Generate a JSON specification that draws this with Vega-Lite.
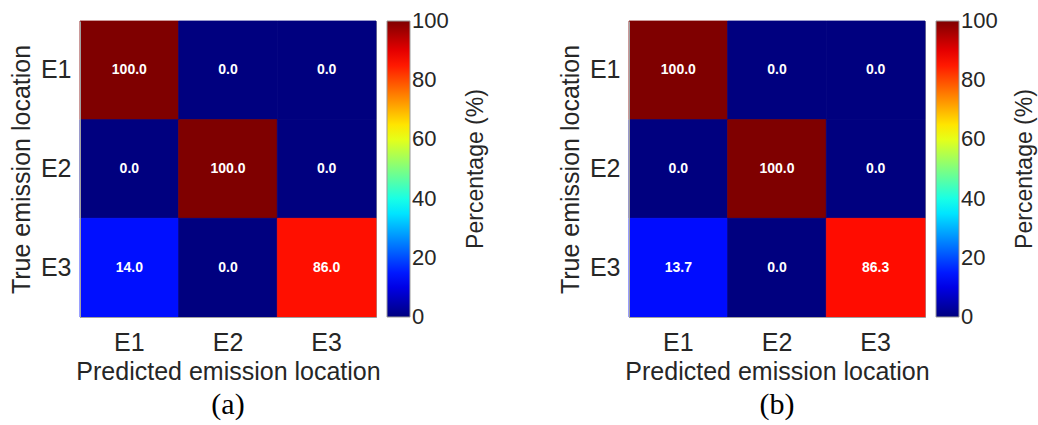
{
  "$schema": "https://vega.github.io/schema/vega-lite/v6.json",
  "padding": {"left": 8, "top": 20, "right": 0, "bottom": 0},
  "background": "white",
  "datasets": {
    "a": [
      {"pred": "E1", "true": "E1", "v": 100.0},
      {"pred": "E2", "true": "E1", "v": 0.0},
      {"pred": "E3", "true": "E1", "v": 0.0},
      {"pred": "E1", "true": "E2", "v": 0.0},
      {"pred": "E2", "true": "E2", "v": 100.0},
      {"pred": "E3", "true": "E2", "v": 0.0},
      {"pred": "E1", "true": "E3", "v": 14.0},
      {"pred": "E2", "true": "E3", "v": 0.0},
      {"pred": "E3", "true": "E3", "v": 86.0}
    ],
    "b": [
      {"pred": "E1", "true": "E1", "v": 100.0},
      {"pred": "E2", "true": "E1", "v": 0.0},
      {"pred": "E3", "true": "E1", "v": 0.0},
      {"pred": "E1", "true": "E2", "v": 0.0},
      {"pred": "E2", "true": "E2", "v": 100.0},
      {"pred": "E3", "true": "E2", "v": 0.0},
      {"pred": "E1", "true": "E3", "v": 13.7},
      {"pred": "E2", "true": "E3", "v": 0.0},
      {"pred": "E3", "true": "E3", "v": 86.3}
    ]
  },
  "config": {
    "font": "Liberation Sans",
    "view": {"stroke": "#a0a0a0", "strokeWidth": 1},
    "axis": {
      "labelFont": "Liberation Sans",
      "titleFont": "Liberation Sans",
      "labelFontSize": 25,
      "titleFontSize": 25,
      "titleFontWeight": "normal",
      "labelColor": "#262626",
      "titleColor": "#262626",
      "ticks": false,
      "domainColor": "#a0a0a0",
      "labelAngle": 0
    },
    "axisX": {"labelPadding": 13, "titlePadding": 4},
    "axisY": {"labelPadding": 9, "titlePadding": 6},
    "legend": {
      "titleFont": "Liberation Sans",
      "labelFont": "Liberation Sans",
      "titleFontSize": 23,
      "titleFontWeight": "normal",
      "labelFontSize": 22,
      "labelColor": "#262626",
      "titleColor": "#262626",
      "gradientLength": 296,
      "gradientThickness": 23,
      "offset": 11,
      "padding": 0,
      "labelOffset": 7,
      "gradientStrokeColor": "#999999",
      "gradientStrokeWidth": 1,
      "titleOrient": "right",
      "titleAnchor": "middle",
      "titlePadding": 16
    },
    "title": {
      "font": "Liberation Serif",
      "fontSize": 30,
      "fontWeight": "normal",
      "color": "#000000",
      "orient": "bottom",
      "anchor": "middle",
      "frame": "group",
      "offset": 6
    }
  },
  "spacing": 68,
  "resolve": {"scale": {"color": "independent"}},
  "hconcat": [
    {
      "title": "(a)",
      "width": 296,
      "height": 296,
      "data": {"name": "a"},
      "encoding": {
        "x": {"field": "pred", "type": "nominal", "sort": ["E1", "E2", "E3"], "title": "Predicted emission location"},
        "y": {"field": "true", "type": "nominal", "sort": ["E1", "E2", "E3"], "title": "True emission location"}
      },
      "layer": [
        {
          "mark": {"type": "rect", "strokeWidth": 0.8},
          "encoding": {
            "color": {
              "field": "v", "type": "quantitative",
              "scale": {
                "domain": [0, 12.5, 25, 37.5, 50, 62.5, 75, 87.5, 100],
                "range": ["#00007f", "#0000ff", "#007fff", "#00ffff", "#7fff7f", "#ffff00", "#ff7f00", "#ff0000", "#7f0000"],
                "interpolate": "rgb"
              },
              "legend": {
                "title": "Percentage (%)", "values": [0, 20, 40, 60, 80, 100], "direction": "vertical",
                "encoding": {
                  "labels": {"baseline": {"value": "middle"}},
                  "title": {"angle": {"value": -90}, "baseline": {"value": "top"}}
                }
              }
            },
            "stroke": {
              "field": "v", "type": "quantitative",
              "scale": {
                "domain": [0, 12.5, 25, 37.5, 50, 62.5, 75, 87.5, 100],
                "range": ["#00007f", "#0000ff", "#007fff", "#00ffff", "#7fff7f", "#ffff00", "#ff7f00", "#ff0000", "#7f0000"],
                "interpolate": "rgb"
              },
              "legend": null
            }
          }
        },
        {
          "mark": {"type": "text", "color": "white", "fontWeight": "bold", "fontSize": 14, "font": "Liberation Sans"},
          "encoding": {"text": {"field": "v", "type": "quantitative", "format": ".1f"}}
        }
      ]
    },
    {
      "title": "(b)",
      "width": 296,
      "height": 296,
      "data": {"name": "b"},
      "encoding": {
        "x": {"field": "pred", "type": "nominal", "sort": ["E1", "E2", "E3"], "title": "Predicted emission location"},
        "y": {"field": "true", "type": "nominal", "sort": ["E1", "E2", "E3"], "title": "True emission location"}
      },
      "layer": [
        {
          "mark": {"type": "rect", "strokeWidth": 0.8},
          "encoding": {
            "color": {
              "field": "v", "type": "quantitative",
              "scale": {
                "domain": [0, 12.5, 25, 37.5, 50, 62.5, 75, 87.5, 100],
                "range": ["#00007f", "#0000ff", "#007fff", "#00ffff", "#7fff7f", "#ffff00", "#ff7f00", "#ff0000", "#7f0000"],
                "interpolate": "rgb"
              },
              "legend": {
                "title": "Percentage (%)", "values": [0, 20, 40, 60, 80, 100], "direction": "vertical",
                "encoding": {
                  "labels": {"baseline": {"value": "middle"}},
                  "title": {"angle": {"value": -90}, "baseline": {"value": "top"}}
                }
              }
            },
            "stroke": {
              "field": "v", "type": "quantitative",
              "scale": {
                "domain": [0, 12.5, 25, 37.5, 50, 62.5, 75, 87.5, 100],
                "range": ["#00007f", "#0000ff", "#007fff", "#00ffff", "#7fff7f", "#ffff00", "#ff7f00", "#ff0000", "#7f0000"],
                "interpolate": "rgb"
              },
              "legend": null
            }
          }
        },
        {
          "mark": {"type": "text", "color": "white", "fontWeight": "bold", "fontSize": 14, "font": "Liberation Sans"},
          "encoding": {"text": {"field": "v", "type": "quantitative", "format": ".1f"}}
        }
      ]
    }
  ]
}
